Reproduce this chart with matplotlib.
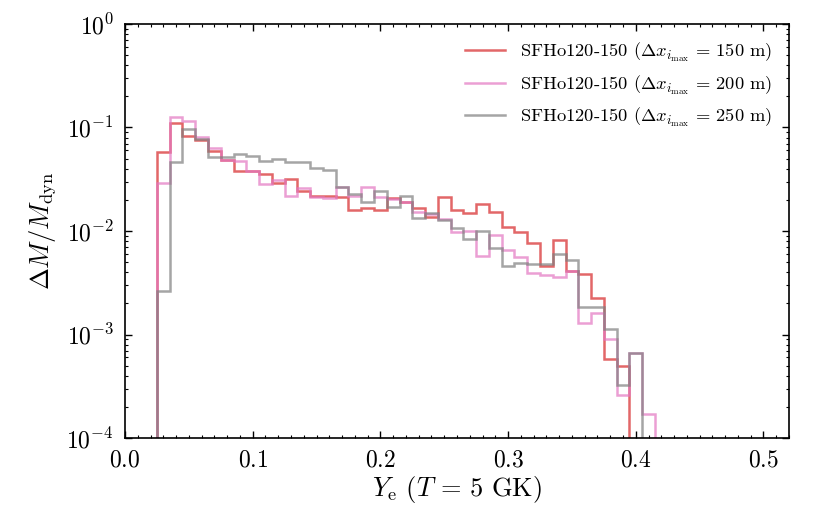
import numpy as np
import matplotlib
matplotlib.use("Agg")
import matplotlib.pyplot as plt
from matplotlib.ticker import MultipleLocator, LogLocator, NullFormatter

plt.rcParams["font.family"] = "serif"
plt.rcParams["font.serif"] = ["cmr10"]
plt.rcParams["mathtext.fontset"] = "cm"
plt.rcParams["axes.formatter.use_mathtext"] = True
plt.rcParams["axes.unicode_minus"] = False

# Ye bins of width 0.01 starting at 0.025
bin_start = 0.025
bin_width = 0.01

# mass fraction per bin
dm_150 = [0.0575, 0.110, 0.083, 0.0757, 0.0593, 0.049, 0.038, 0.038, 0.0358, 0.0293,
          0.0318, 0.0244, 0.0219, 0.0219, 0.0215, 0.016, 0.0166, 0.016, 0.0207, 0.0192,
          0.0166, 0.0137, 0.0215, 0.016, 0.0148, 0.0182, 0.0154, 0.011, 0.00985, 0.0077,
          0.00459, 0.0082, 0.0041, 0.00385, 0.00227, 0.00058, 0.000496]
dm_200 = [0.0293, 0.127, 0.116, 0.0815, 0.0638, 0.049, 0.0475, 0.038, 0.0283, 0.0311,
          0.0219, 0.0258, 0.0211, 0.021, 0.0264, 0.0219, 0.0268, 0.0215, 0.0204, 0.0191,
          0.0153, 0.0145, 0.013, 0.00985, 0.0101, 0.00573, 0.00915, 0.00655, 0.00565, 0.0039,
          0.00376, 0.00362, 0.00414, 0.00128, 0.0016, 0.0009, 0.00026, 0.00067, 0.00017]
dm_250 = [0.00263, 0.0468, 0.096, 0.0769, 0.0522, 0.0522, 0.0555, 0.0534, 0.0475, 0.0497,
          0.046, 0.046, 0.0403, 0.0388, 0.0268, 0.0226, 0.0192, 0.0242, 0.0172, 0.0219,
          0.0135, 0.0148, 0.0128, 0.0106, 0.0084, 0.01, 0.0068, 0.00459, 0.00488, 0.0048,
          0.0048, 0.006, 0.00525, 0.00186, 0.00186, 0.00112, 0.000325, 0.00066]

labels = [r"SFHo120-150 ($\Delta x_{i_{\max}}\,=\,150$ m)",
          r"SFHo120-150 ($\Delta x_{i_{\max}}\,=\,200$ m)",
          r"SFHo120-150 ($\Delta x_{i_{\max}}\,=\,250$ m)"]
colors = ["tab:red", "tab:pink", "tab:gray"]

fig = plt.figure(figsize=(8.3, 5.19), dpi=100)
ax = fig.add_axes([0.1506, 0.156, 0.80, 0.7978])

for vals, lab, col in zip([dm_150, dm_200, dm_250], labels, colors):
    edges = bin_start + bin_width * np.arange(len(vals) + 1)
    ax.stairs(vals, edges, baseline=1e-8, fill=False, color=col, alpha=0.7,
              linewidth=1.8, label=lab)

ax.set_yscale("log")
ax.set_xlim(0.0, 0.52)
ax.set_ylim(1e-4, 1)
ax.xaxis.set_major_locator(MultipleLocator(0.1))
ax.xaxis.set_minor_locator(MultipleLocator(0.01))
ax.yaxis.set_major_locator(LogLocator(base=10, numticks=10))
ax.yaxis.set_minor_locator(LogLocator(base=10, subs=np.arange(2, 10), numticks=20))
ax.yaxis.set_minor_formatter(NullFormatter())

ax.tick_params(which="both", direction="in", top=True, right=True, labelsize=17, pad=8)
ax.tick_params(which="major", length=5, width=1.0)
ax.tick_params(which="minor", length=2.5, width=0.8)
for sp in ax.spines.values():
    sp.set_linewidth(1.2)

ax.set_xlabel(r"$Y_{\rm e}$ ($T\,=\,5$ GK)", fontsize=19, labelpad=2)
ax.set_ylabel(r"$\Delta M / M_{\rm dyn}$", fontsize=19, labelpad=6)

ax.legend(loc="upper right", frameon=False, fontsize=13.3, handlelength=2.2,
          borderaxespad=0.5)

fig.savefig("out.png", dpi=100)
